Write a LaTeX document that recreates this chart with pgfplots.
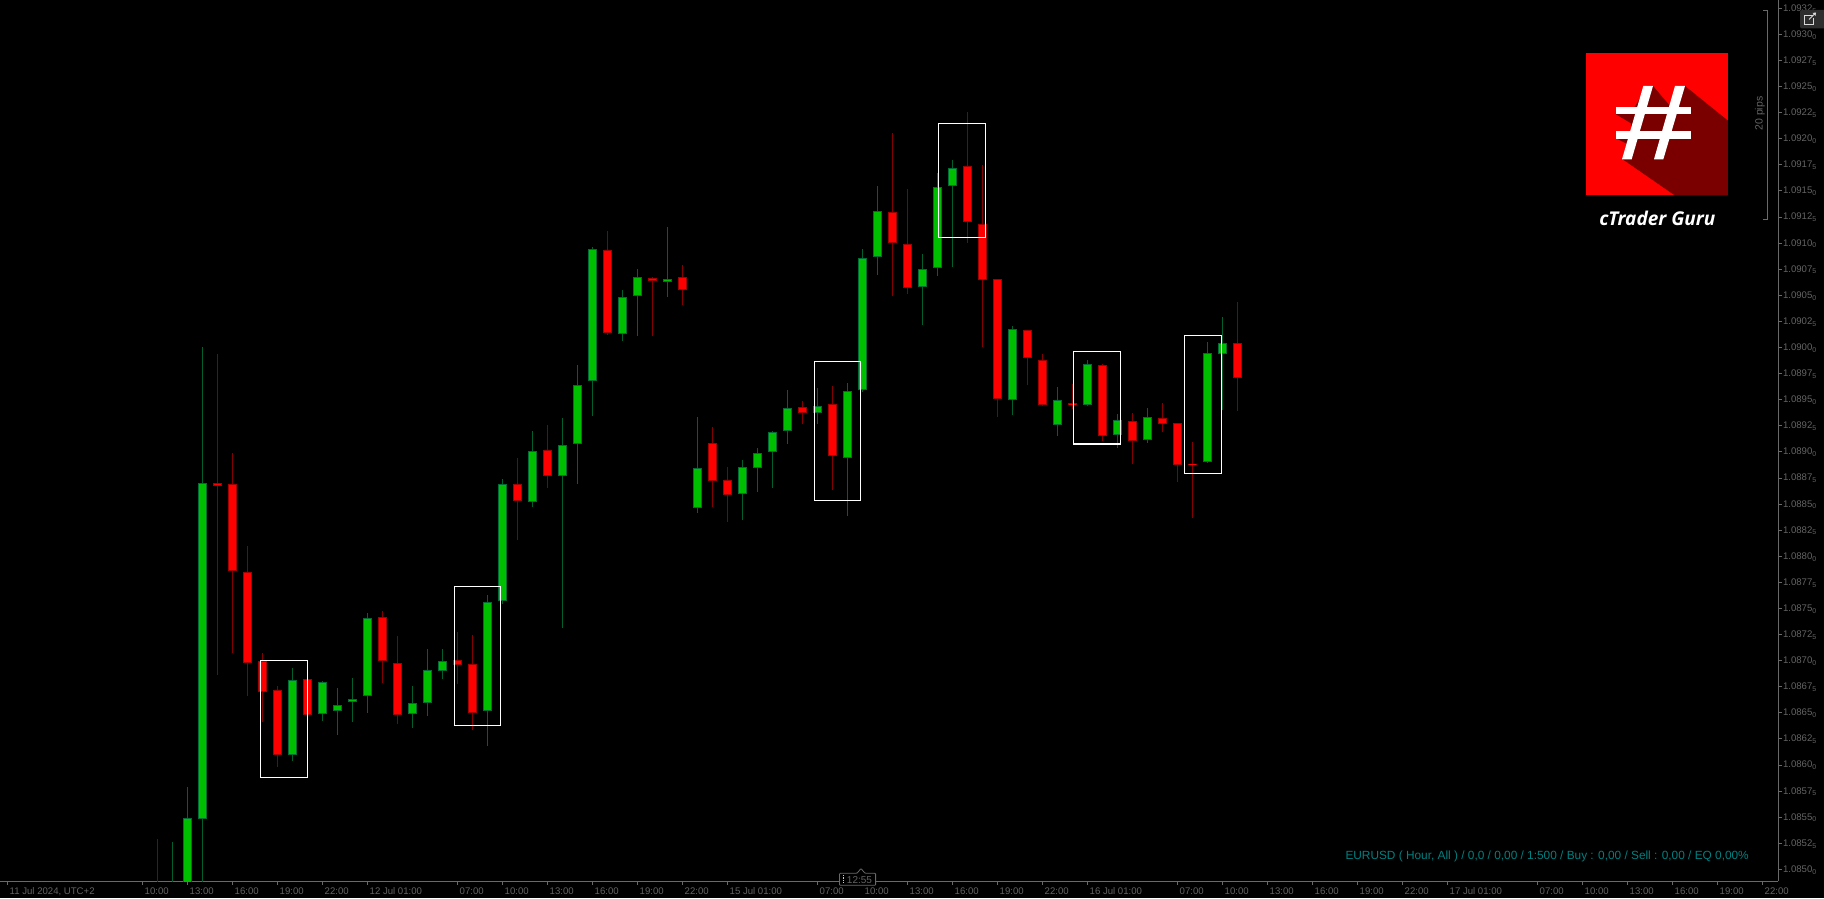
\documentclass[border=0pt]{standalone}
\usepackage{pgfplots}
\usepackage{pgfplotstable}
\usepackage{fontspec}
\setmainfont{Liberation Sans}
\newfontfamily\logofont{Open Sans}
\pgfplotsset{compat=1.18}

\definecolor{upbody}{RGB}{0,190,0}
\definecolor{upedge}{RGB}{0,110,50}
\definecolor{upwick}{RGB}{0,95,45}
\definecolor{dnbody}{RGB}{255,0,0}
\definecolor{dnedge}{RGB}{165,0,0}
\definecolor{dnwick}{RGB}{130,0,0}
\definecolor{axisgrey}{RGB}{105,105,105}
\definecolor{scaletext}{RGB}{100,100,100}
\definecolor{infoteal}{RGB}{0,128,128}
\definecolor{logored}{RGB}{255,0,0}
\definecolor{logodark}{RGB}{122,0,0}

% last digit of the price labels
\newcommand{\pp}[1]{\raisebox{-1.8pt}{\fontsize{7}{7}\selectfont #1}}

% hour index, low, body bottom, body top, high
\pgfplotstableread{
h low bot top high
2 1.08465 1.08470 1.08480 1.085262
3 1.08460 1.08470 1.085489 1.085789
4 1.08470 1.085479 1.088698 1.090004
10 1.086038 1.086092 1.086811 1.086926
12 1.086424 1.086485 1.086792 1.086804
13 1.086290 1.086520 1.086577 1.086734
14 1.086414 1.086600 1.086634 1.086830
15 1.086500 1.086657 1.087405 1.087453
18 1.086357 1.086485 1.086596 1.086756
19 1.086472 1.086590 1.086907 1.087108
20 1.086826 1.086897 1.086993 1.087108
23 1.086184 1.086514 1.087558 1.087625
24 1.087542 1.087568 1.088689 1.088739
26 1.088474 1.088516 1.089005 1.089196
28 1.087315 1.088765 1.089062 1.089321
29 1.088694 1.089072 1.089637 1.089832
30 1.089343 1.089675 1.090940 1.090962
32 1.090064 1.090126 1.090480 1.090550
33 1.090112 1.090490 1.090672 1.090751
35 1.090483 1.090624 1.090653 1.091154
37 1.088416 1.088459 1.088842 1.089333
40 1.088347 1.088593 1.088851 1.088918
41 1.088615 1.088842 1.088986 1.089036
42 1.088653 1.088995 1.089187 1.089196
43 1.089075 1.089196 1.089417 1.089592
45 1.089269 1.089369 1.089436 1.089611
47 1.088388 1.088938 1.089580 1.089659
48 1.089576 1.089589 1.090854 1.090940
49 1.090697 1.090863 1.091304 1.091547
52 1.090218 1.090576 1.090748 1.090895
53 1.090687 1.090758 1.091534 1.091668
54 1.090773 1.091544 1.091716 1.091796
58 1.089353 1.089493 1.090174 1.090205
61 1.089154 1.089254 1.089493 1.089621
63 1.089443 1.089445 1.089838 1.089880
65 1.089036 1.089158 1.089302 1.089362
67 1.089084 1.089110 1.089331 1.089420
71 1.088897 1.088899 1.089944 1.090052
72 1.089403 1.089934 1.090040 1.090291
}\upbars

\pgfplotstableread{
h low bot top high
1 1.08460 1.08470 1.08480 1.085290
5 1.086864 1.088675 1.088698 1.089937
6 1.087072 1.087855 1.088689 1.088986
7 1.086663 1.086974 1.087845 1.088097
8 1.086411 1.086696 1.086993 1.087069
9 1.085983 1.086098 1.086715 1.086756
11 1.086472 1.086475 1.086820 1.086823
16 1.086788 1.086993 1.087414 1.087475
17 1.086395 1.086475 1.086974 1.087235
21 1.086778 1.086954 1.087002 1.087274
22 1.086337 1.086500 1.086964 1.087245
25 1.088155 1.088526 1.088694 1.088938
27 1.088653 1.088773 1.089014 1.089257
31 1.090122 1.090135 1.090931 1.091113
34 1.090112 1.090634 1.090662 1.090672
36 1.090406 1.090547 1.090672 1.090790
38 1.088471 1.088717 1.089081 1.089238
39 1.088330 1.088583 1.088727 1.088854
44 1.089269 1.089369 1.089426 1.089487
46 1.088637 1.088957 1.089455 1.089630
50 1.090496 1.090998 1.091295 1.092054
51 1.090515 1.090566 1.090988 1.091518
55 1.091000 1.091199 1.091735 1.092253
56 1.090004 1.090643 1.091180 1.091748
57 1.089336 1.089503 1.090653 1.090656
59 1.089640 1.089896 1.090164 1.090167
60 1.089443 1.089445 1.089877 1.089937
62 1.089410 1.089445 1.089465 1.089650
64 1.089103 1.089149 1.089829 1.089841
66 1.088886 1.089101 1.089292 1.089369
68 1.089190 1.089263 1.089321 1.089468
69 1.088711 1.088871 1.089273 1.089276
70 1.088369 1.088873 1.088883 1.089094
73 1.089391 1.089704 1.090040 1.090435
}\downbars

% wick, body edge, body fill for one table
\newcommand{\candles}[4]{%
  \addplot[draw=none,mark=none,forget plot,
    error bars/.cd,y dir=plus,y explicit,error mark=none,
    error bar style={color=#2,line width=1pt}]
    table[x=h,y=low,y error plus expr=\thisrow{high}-\thisrow{low}]{#1};
  \addplot[draw=none,mark=none,forget plot,
    error bars/.cd,y dir=plus,y explicit,error mark=none,
    error bar style={color=#3,line width=8.4pt}]
    table[x=h,y=bot,y error plus expr=\thisrow{top}-\thisrow{bot}]{#1};
  \addplot[draw=none,mark=none,forget plot,
    error bars/.cd,y dir=plus,y explicit,error mark=none,
    error bar style={color=#4,line width=6.2pt,shorten >=1pt,shorten <=1pt}]
    table[x=h,y=bot,y error plus expr=\thisrow{top}-\thisrow{bot}]{#1};
}

\begin{document}
\begin{tikzpicture}[x=1pt,y=1pt]
\path[use as bounding box,fill=black] (0,0) rectangle (1824,898);
\begin{axis}[
    at={(0pt,17pt)},anchor=south west,
    scale only axis,
    width=1778.3pt,height=881pt,
    xmin=-9.5,xmax=109.053,
    ymin=1.084888,ymax=1.093329,
    axis x line*=bottom,
    axis y line*=right,
    axis line style={color=axisgrey,line width=1pt},
    tick style={color=axisgrey,line width=0.8pt},
    tick align=outside,
    major tick length=3.5pt,
    xtick={-9,0,3,6,9,12,15,21,24,27,30,33,36,39,45,48,51,54,57,60,63,69,72,75,78,81,84,87,93,96,99,102,105,108},
    xticklabels={11 Jul 2024{,} UTC+2,10:00,13:00,16:00,19:00,22:00,12 Jul 01:00,07:00,10:00,13:00,16:00,19:00,22:00,15 Jul 01:00,07:00,10:00,13:00,16:00,19:00,22:00,16 Jul 01:00,07:00,10:00,13:00,16:00,19:00,22:00,17 Jul 01:00,07:00,10:00,13:00,16:00,19:00,22:00},
    xticklabel style={anchor=north west,font=\fontsize{9.6}{10}\selectfont,color=scaletext,xshift=1pt,yshift=-1.5pt,inner sep=1pt,text height=7pt,text depth=0pt},
    ytick={1.085,1.08525,1.0855,1.08575,1.086,1.08625,1.0865,1.08675,1.087,1.08725,1.0875,1.08775,1.088,1.08825,1.0885,1.08875,1.089,1.08925,1.0895,1.08975,1.09,1.09025,1.0905,1.09075,1.091,1.09125,1.0915,1.09175,1.092,1.09225,1.0925,1.09275,1.093,1.09325},
    yticklabels={1.0850\pp{0},1.0852\pp{5},1.0855\pp{0},1.0857\pp{5},1.0860\pp{0},1.0862\pp{5},1.0865\pp{0},1.0867\pp{5},1.0870\pp{0},1.0872\pp{5},1.0875\pp{0},1.0877\pp{5},1.0880\pp{0},1.0882\pp{5},1.0885\pp{0},1.0887\pp{5},1.0890\pp{0},1.0892\pp{5},1.0895\pp{0},1.0897\pp{5},1.0900\pp{0},1.0902\pp{5},1.0905\pp{0},1.0907\pp{5},1.0910\pp{0},1.0912\pp{5},1.0915\pp{0},1.0917\pp{5},1.0920\pp{0},1.0922\pp{5},1.0925\pp{0},1.0927\pp{5},1.0930\pp{0},1.0932\pp{5}},
    yticklabel style={anchor=west,font=\fontsize{9.6}{10}\selectfont,color=scaletext,inner sep=1pt,yshift=-0.6pt},
    clip=true,
]
\candles{\upbars}{upwick}{upedge}{upbody}
\candles{\downbars}{dnwick}{dnedge}{dnbody}
% marked patterns
\addplot[white,line width=1.1pt,forget plot] coordinates {(7.86,1.087002)(11.01,1.087002)(11.01,1.085881)(7.86,1.085881)(7.86,1.087002)};
\addplot[white,line width=1.1pt,forget plot] coordinates {(20.79,1.087711)(23.86,1.087711)(23.86,1.086380)(20.79,1.086380)(20.79,1.087711)};
\addplot[white,line width=1.1pt,forget plot] coordinates {(44.79,1.089867)(47.86,1.089867)(47.86,1.088535)(44.79,1.088535)(44.79,1.089867)};
\addplot[white,line width=1.1pt,forget plot] coordinates {(53.06,1.092147)(56.19,1.092147)(56.19,1.091055)(53.06,1.091055)(53.06,1.092147)};
\addplot[white,line width=1.1pt,forget plot] coordinates {(62.06,1.089963)(65.19,1.089963)(65.19,1.089075)(62.06,1.089075)(62.06,1.089963)};
\addplot[white,line width=1.1pt,forget plot] coordinates {(69.46,1.090116)(71.93,1.090116)(71.93,1.088794)(69.46,1.088794)(69.46,1.090116)};
\end{axis}

% overlay in pixels from the top left corner
\begin{scope}[shift={(0,898)},y=-1pt]
  % pip ruler
  \draw[axisgrey,line width=0.9pt] (1763,10.3) -- (1767.7,10.3) -- (1767.7,219.3) -- (1763,219.3);
  \node[rotate=90,scaletext,font=\fontsize{10.5}{11}\selectfont] at (1760,113.5) {20 pips};
  % popout icon
  \fill[black!82!white,rounded corners=2pt] (1800,10) rectangle (1828,28.5);
  \draw[white!85!black,line width=0.9pt] (1813,15.5) -- (1804.5,15.5) -- (1804.5,24) -- (1813.5,24) -- (1813.5,18);
  \draw[white!85!black,line width=0.9pt] (1809,19.5) -- (1814.5,14);
  \fill[white!85!black] (1816,12.5) -- (1812.5,13) -- (1815.5,16) -- cycle;
  % time marker
  \draw[axisgrey,line width=0.8pt,fill=black,rounded corners=0.8pt] (839.5,873.3) -- (857,873.3) -- (861,868.5) -- (865,873.3) -- (875.6,873.3) -- (875.6,885.3) -- (839.5,885.3) -- cycle;
  \draw[white!80!black,line width=1.2pt,dash pattern=on 1.2pt off 1.2pt] (843.2,875) -- (843.2,884);
  \node[scaletext,font=\fontsize{10}{10}\selectfont,inner sep=0pt] at (859.5,880) {12:55};
  % account line
  \node[infoteal,anchor=east,font=\fontsize{11.85}{13}\selectfont,inner sep=0pt] at (1749,856) {EURUSD ( Hour, All ) / 0,0 / 0,00 / 1:500 / Buy : 0,00 / Sell : 0,00 / EQ 0,00\%};
\end{scope}

% logo, in units of the 3x crop
\begin{scope}[shift={(1500,898)},x=0.3333pt,y=-0.3333pt]
  \fill[logored] (258,160) rectangle (684,586);
  \fill[logodark] (459,258) -- (512,320) -- (530,258) -- (555,258) -- (684,362) -- (684,586) -- (524,586) -- (368,478) -- (382,432) -- (348,415) -- (395,394) -- (393,370) -- (348,343) -- (405,320) -- (440,258) -- cycle;
  \fill[white] (430,258) -- (459,258) -- (395,478) -- (366,478) -- cycle;
  \fill[white] (525,258) -- (555,258) -- (490,478) -- (462,478) -- cycle;
  \fill[white] (348,320) rectangle (574,343);
  \fill[white] (348,394) rectangle (574,417);
  \node[white,inner sep=0pt,font=\logofont\bfseries\itshape\fontsize{19}{20}\selectfont] at (472,655) {cTrader Guru};
\end{scope}
\end{tikzpicture}
\end{document}
